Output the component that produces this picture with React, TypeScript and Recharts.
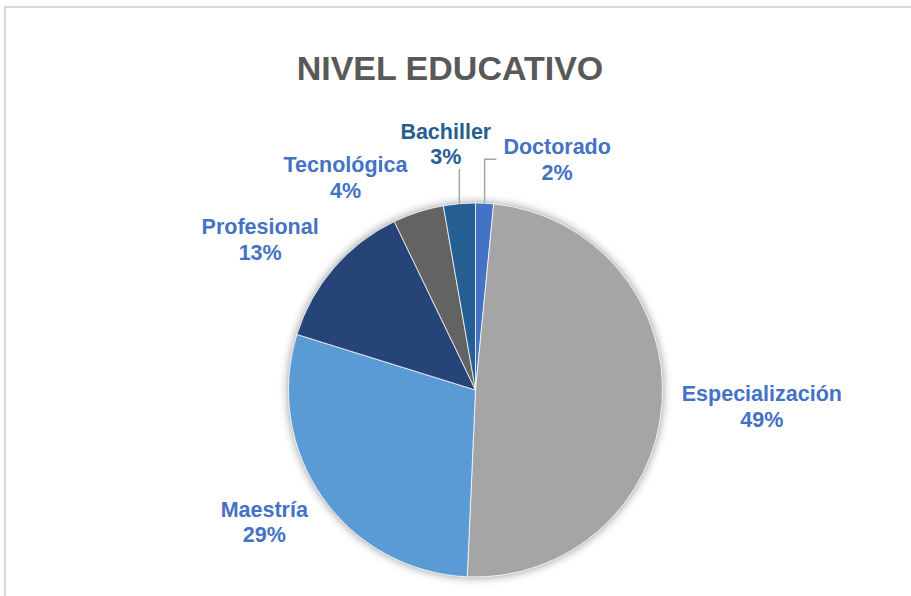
import React from 'react';
import { PieChart, Pie, Cell } from 'recharts';

// ---- Data ----
const categories = ['Doctorado', 'Especialización', 'Maestría', 'Profesional', 'Tecnológica', 'Bachiller'];
const values = [1.55, 49.15, 29.1, 13.05, 4.4, 2.75];
const sliceColors = ['#4472C4', '#A5A5A5', '#5B9BD5', '#264478', '#636363', '#255E91'];
const labelColors = ['#4472C4', '#4472C4', '#4472C4', '#4472C4', '#4472C4', '#255E91'];
const title = 'NIVEL EDUCATIVO';

// ---- Layout ----
const W = 911;
const H = 596;
const PIE_CX = 475.5;
const PIE_CY = 390;
const PIE_R = 187;
const LABEL_GAP = 19;
const LINE_GAP = 25.5;
const BOX_HALF_H = 25;
const BOX_PAD = 7;
const LEADER_MIN = 18;
// collision-avoidance nudges for the labels (like Excel's best-fit shifting)
const LABEL_NUDGE: [number, number][] = [
  [69, 0],
  [1, 0],
  [-7, -1],
  [-15, 0],
  [-48, 7],
  [-8, -16],
];
const FONT_FAMILY = '"Liberation Sans", Arial, sans-serif';
const LABEL_SIZE = 21.5;

const data = categories.map((name, i) => ({ name, value: values[i] }));

let ctx: CanvasRenderingContext2D | null = null;
function measure(text: string): number {
  if (!ctx) {
    const c = document.createElement('canvas');
    ctx = c.getContext('2d');
  }
  if (!ctx) return text.length * LABEL_SIZE * 0.6;
  ctx.font = `bold ${LABEL_SIZE}px ${FONT_FAMILY}`;
  return ctx.measureText(text).width;
}

function renderLabel(props: any) {
  const { cx, cy, midAngle, outerRadius, percent, index } = props;
  const rad = (-midAngle * Math.PI) / 180;
  const dx = Math.cos(rad);
  const dy = Math.sin(rad);
  const name = categories[index];
  const pct = `${Math.round(percent * 100)}%`;
  const w = Math.max(measure(name), measure(pct));
  const a = w / 2;
  const b = BOX_HALF_H;
  const [nx, ny] = LABEL_NUDGE[index] || [0, 0];
  const lx = cx + dx * (outerRadius + LABEL_GAP) + dx * a + nx;
  const ly = cy + dy * (outerRadius + LABEL_GAP) + dy * b + ny;

  const ex = cx + dx * outerRadius;
  const ey = cy + dy * outerRadius;
  const left = lx - a - BOX_PAD;
  const right = lx + a + BOX_PAD;
  const top = ly - b;
  const bottom = ly + b;
  const ddx = ex < left ? left - ex : ex > right ? ex - right : 0;
  const ddy = ey < top ? top - ey : ey > bottom ? ey - bottom : 0;
  let leader: string | null = null;
  if (Math.hypot(ddx, ddy) > LEADER_MIN) {
    if (ddx === 0) {
      leader = `M${ex},${ey}L${ex},${ey > bottom ? bottom : top}`;
    } else {
      const sx = ex < left ? left : right;
      leader = `M${ex},${ey}L${ex},${ly}L${sx},${ly}`;
    }
  }
  const color = labelColors[index];
  return (
    <g key={`lbl-${index}`}>
      {leader && <path d={leader} stroke="#A6A6A6" strokeWidth={1.5} fill="none" />}
      <text
        x={lx}
        y={ly - 5}
        textAnchor="middle"
        fill={color}
        fontFamily={FONT_FAMILY}
        fontWeight="bold"
        fontSize={LABEL_SIZE}
      >
        {name}
      </text>
      <text
        x={lx}
        y={ly - 5 + LINE_GAP}
        textAnchor="middle"
        fill={color}
        fontFamily={FONT_FAMILY}
        fontWeight="bold"
        fontSize={LABEL_SIZE}
      >
        {pct}
      </text>
    </g>
  );
}

export default function App() {
  return (
    <div
      style={{
        position: 'absolute',
        left: 0,
        top: 0,
        width: W,
        height: H,
        background: '#fff',
        overflow: 'hidden',
      }}
    >
      <style>{`.pie-shadow-cell { filter: drop-shadow(0px 0px 5px rgba(0,0,0,0.45)); }`}</style>
      <div
        style={{
          position: 'absolute',
          left: 4,
          top: 6,
          width: W + 20,
          height: H + 20,
          borderTop: '2px solid #D9D9D9',
          borderLeft: '2px solid #D9D9D9',
          boxSizing: 'border-box',
        }}
      />
      <div style={{ position: 'absolute', left: 0, top: 0 }}>
        <PieChart width={W} height={H} margin={{ top: 0, right: 0, bottom: 0, left: 0 }}>
          <Pie
            data={data}
            dataKey="value"
            nameKey="name"
            cx={PIE_CX}
            cy={PIE_CY}
            outerRadius={PIE_R}
            startAngle={90}
            endAngle={-270}
            stroke="none"
            label={false}
            labelLine={false}
            isAnimationActive={false}
          >
            {data.map((d, i) => (
              <Cell key={`s-${i}`} fill="#ffffff" className="pie-shadow-cell" />
            ))}
          </Pie>
          <Pie
            data={data}
            dataKey="value"
            nameKey="name"
            cx={PIE_CX}
            cy={PIE_CY}
            outerRadius={PIE_R}
            startAngle={90}
            endAngle={-270}
            stroke="#ffffff"
            strokeWidth={0.75}
            label={renderLabel}
            labelLine={false}
            isAnimationActive={false}
          >
            {data.map((d, i) => (
              <Cell key={`c-${i}`} fill={sliceColors[i]} />
            ))}
          </Pie>
        </PieChart>
      </div>
      <svg
        width={W}
        height={H}
        style={{ position: 'absolute', left: 0, top: 0, pointerEvents: 'none' }}
      >
        <text
          x={450}
          y={80}
          textAnchor="middle"
          fill="#595959"
          fontFamily={FONT_FAMILY}
          fontWeight="bold"
          fontSize={34}
        >
          {title}
        </text>
      </svg>
    </div>
  );
}
